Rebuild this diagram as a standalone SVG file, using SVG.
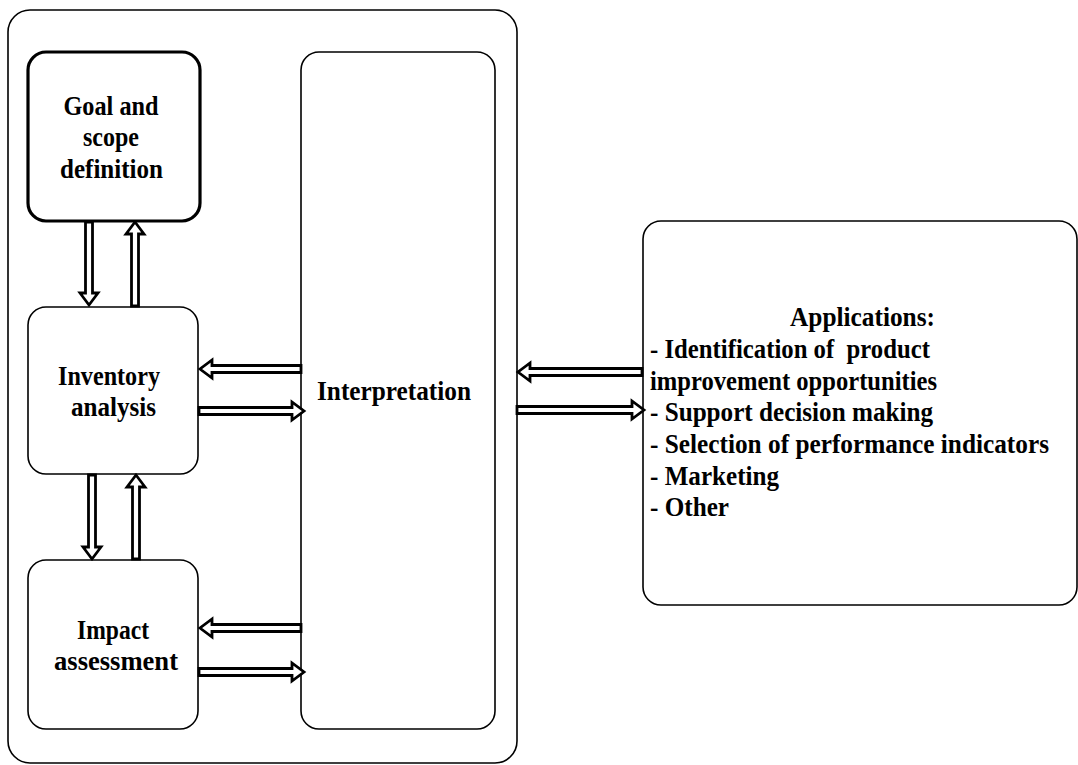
<svg xmlns="http://www.w3.org/2000/svg" width="1078" height="765" viewBox="0 0 1078 765">
<style>
.box{fill:#fff;stroke:#000;stroke-width:1.6}
.thick{stroke-width:3.2}
.arr{fill:#fff;stroke:#000;stroke-width:2.8;stroke-linejoin:miter}
text{font-family:"Liberation Serif","Times New Roman",serif;font-weight:bold;font-size:27px;fill:#000;white-space:pre}
.c{text-anchor:middle}
</style>
<rect width="1078" height="765" fill="#fff"/>
<g id="outer"><rect class="box" x="8" y="10" width="509" height="753" rx="22"/></g>
<g id="goal"><rect class="box thick" x="28" y="52" width="172" height="169" rx="18"/>
<text class="c" x="111" y="115" textLength="95" lengthAdjust="spacingAndGlyphs">Goal and</text>
<text class="c" x="111" y="146" textLength="56" lengthAdjust="spacingAndGlyphs">scope</text>
<text class="c" x="111.5" y="178" textLength="103" lengthAdjust="spacingAndGlyphs">definition</text></g>
<g id="inventory"><rect class="box" x="28" y="307" width="170" height="167" rx="18"/>
<text class="c" x="109" y="385" textLength="102" lengthAdjust="spacingAndGlyphs">Inventory</text>
<text class="c" x="113.5" y="416" textLength="85" lengthAdjust="spacingAndGlyphs">analysis</text></g>
<g id="impact"><rect class="box" x="28" y="560" width="170" height="169" rx="18"/>
<text class="c" x="113" y="639" textLength="72" lengthAdjust="spacingAndGlyphs">Impact</text>
<text class="c" x="116" y="670" textLength="124" lengthAdjust="spacingAndGlyphs">assessment</text></g>
<g id="interpretation"><rect class="box" x="301" y="52" width="194" height="677" rx="18"/>
<text class="c" x="394" y="400" textLength="154" lengthAdjust="spacingAndGlyphs">Interpretation</text></g>
<g id="applications"><rect class="box" x="643" y="221" width="434" height="384" rx="18"/>
<text class="c" x="862.5" y="326" textLength="145" lengthAdjust="spacingAndGlyphs">Applications:</text>
<text x="650" y="358" textLength="280" lengthAdjust="spacingAndGlyphs">- Identification of&#160; product</text>
<text x="650" y="390" textLength="287" lengthAdjust="spacingAndGlyphs">improvement opportunities</text>
<text x="650" y="421" textLength="283" lengthAdjust="spacingAndGlyphs">- Support decision making</text>
<text x="650" y="453" textLength="399" lengthAdjust="spacingAndGlyphs">- Selection of performance indicators</text>
<text x="650" y="485" textLength="129" lengthAdjust="spacingAndGlyphs">- Marketing</text>
<text x="650" y="516" textLength="79" lengthAdjust="spacingAndGlyphs">- Other</text></g>
<g id="connectors">
<polygon class="arr" points="85.5,222 85.5,293 80,293 89,305 98,293 92.5,293 92.5,222"/>
<polygon class="arr" points="131.5,306 131.5,234 126,234 135,222 144,234 138.5,234 138.5,306"/>
<polygon class="arr" points="88.5,475 88.5,547 83,547 92,559 101,547 95.5,547 95.5,475"/>
<polygon class="arr" points="132.5,559 132.5,487 127,487 136,475 145,487 139.5,487 139.5,559"/>
<polygon class="arr" points="301,365.5 212,365.5 212,360 200,369 212,378 212,372.5 301,372.5"/>
<polygon class="arr" points="199,407.5 292,407.5 292,402 304,411 292,420 292,414.5 199,414.5"/>
<polygon class="arr" points="301,624.5 212,624.5 212,619 200,628 212,637 212,631.5 301,631.5"/>
<polygon class="arr" points="199,668.5 292,668.5 292,663 304,672 292,681 292,675.5 199,675.5"/>
<polygon class="arr" points="642,368.5 530,368.5 530,363 518,372 530,381 530,375.5 642,375.5"/>
<polygon class="arr" points="517,406.5 632,406.5 632,401 644,410 632,419 632,413.5 517,413.5"/>
</g>
</svg>
